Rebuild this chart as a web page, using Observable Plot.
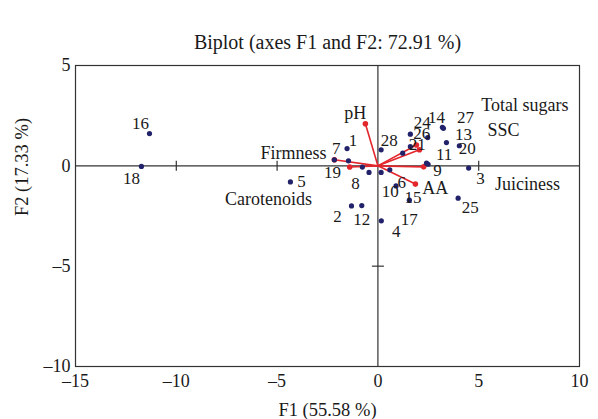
<!DOCTYPE html>
<html><head><meta charset="utf-8">
<script src="https://cdn.jsdelivr.net/npm/d3@7"></script>
<script src="https://cdn.jsdelivr.net/npm/@observablehq/plot@0.6"></script>
<style>body{margin:0;background:#fff}</style>
</head><body><div id="chart"></div>
<script>
// Observations (F1, F2)
const obsIds = ["1","2","3","4","5","6","7","8","9","10","11","12","13","14","15","16","17","18","19","20","21","22","23","24","25","26","27","28"];
const obsF1 = [-1.53,-1.31,4.50,0.17,-4.34,0.59,-2.16,-0.77,2.41,0.16,2.49,-0.80,3.40,3.20,0.90,-11.33,1.56,-11.73,-1.46,4.04,1.61,1.23,-0.44,1.61,3.98,2.47,3.25,0.16];
const obsF2 = [0.86,-2.00,-0.11,-2.74,-0.80,-0.20,0.30,-0.06,0.13,-0.33,0.08,-1.98,1.16,1.92,-1.00,1.61,-1.71,-0.03,0.25,1.00,0.96,0.63,-0.33,1.58,-1.61,1.41,1.87,0.80];
// Variables (vector tips) and their label anchors
const varNames = ["pH","Firmness","Carotenoids","AA","Juiciness","Total sugars","SSC"];
const varF1 = [-0.62,-2.16,-1.40,1.86,2.27,1.91,2.06];
const varF2 = [2.10,0.30,-0.06,-0.91,-0.05,1.04,0.80];
const varLabelF1 = [-1.12,-4.19,-5.43,2.85,7.42,7.29,6.23];
const varLabelF2 = [2.64,0.65,-1.64,-1.14,-0.90,3.03,1.79];
const xTicks = [-15,-10,-5,0,5,10];
const yTicks = [-10,-5,0,5];
const axisTicksX = [-10,-5,5];
const axisTicksY = [-5];

// label placement (pixel offsets), layout only
const labelOffsets = {
  "1":[6,-8],"2":[-14,11],"3":[12,11],"4":[15,11],"5":[11,0],"6":[12,13],"7":[2,-11],
  "8":[-7,17],"9":[11,7],"10":[9,19],"11":[16,-10],"12":[0,14],"13":[17,-8],"14":[-6,-10],
  "15":[17,12],"16":[-9,-10],"17":[0,19],"18":[-10,12],"19":[-16,12],"20":[8,3],"21":[7,-2],
  "24":[12,-12],"25":[12,9],"26":[-6,-4],"27":[22,-11],"28":[8,-9]
};

const obs = obsIds.map((id,i)=>({id, x: obsF1[i], y: obsF2[i]}));
const vars = varNames.map((n,i)=>({name:n, x: varF1[i], y: varF2[i], lx: varLabelF1[i], ly: varLabelF2[i]}));

const navy = "#22226b";
const red = "#e3262b";
const ink = "#1a1a1a";
const font = "Liberation Serif, Times New Roman, serif";
const fs = 18;

const vTick = {draw(ctx, size){ const r = Math.sqrt(size/Math.PI); ctx.moveTo(0,-r); ctx.lineTo(0,r); }};
const hTick = {draw(ctx, size){ const r = Math.sqrt(size/Math.PI); ctx.moveTo(-r,0); ctx.lineTo(r,0); }};

const labelMarks = obs.filter(d => labelOffsets[d.id]).map(d =>
  Plot.text([d], {x:"x", y:"y", text:"id", dx: labelOffsets[d.id][0], dy: labelOffsets[d.id][1], fontSize: 17, fill: ink})
);

const dash = d => d < 0 ? "\u2013" + Math.abs(d) : String(d);

const chart = Plot.plot({
  width: 598, height: 419,
  marginLeft: 75, marginRight: 19, marginTop: 65, marginBottom: 53,
  style: {fontFamily: font, fontSize: fs + "px", color: ink, background: "#fff"},
  x: {domain: [-15,10], ticks: xTicks, tickSize: 0, tickPadding: 8, label: null, tickFormat: dash},
  y: {domain: [-10,5], ticks: yTicks, tickSize: 0, tickPadding: 5, label: null, tickFormat: dash},
  marks: [
    Plot.frame({stroke: "#333", strokeWidth: 1.2}),
    Plot.ruleX([0], {stroke: "#333", strokeWidth: 1.2}),
    Plot.ruleY([0], {stroke: "#333", strokeWidth: 1.2}),
    Plot.dot(axisTicksX, {x: d=>d, y: ()=>0, symbol: vTick, r: 5, stroke: "#333", strokeWidth: 1.2, fill: "none"}),
    Plot.dot(axisTicksY, {x: ()=>0, y: d=>d, symbol: hTick, r: 6, stroke: "#333", strokeWidth: 1.2, fill: "none"}),
    Plot.link(vars, {x1: ()=>0, y1: ()=>0, x2: "x", y2: "y", stroke: red, strokeWidth: 1.6}),
    Plot.dot(vars, {x: "x", y: "y", r: 2.8, fill: red}),
    Plot.dot(obs, {x: "x", y: "y", r: 2.6, fill: navy}),
    ...labelMarks,
    Plot.text(vars, {x: "lx", y: "ly", text: "name", fontSize: fs, fill: ink}),
    Plot.text(["Biplot (axes F1 and F2: 72.91 %)"], {frameAnchor: "top", lineAnchor: "middle", dy: -23, fontSize: 20, fill: ink}),
    Plot.text(["F1 (55.58 %)"], {frameAnchor: "bottom", lineAnchor: "middle", dy: 44, fontSize: 18.5, fill: ink}),
    Plot.text(["F2 (17.33 %)"], {frameAnchor: "left", textAnchor: "middle", lineAnchor: "middle", dx: -53, dy: -49, rotate: -90, fontSize: 18.5, fill: ink})
  ]
});
document.getElementById("chart").appendChild(chart);
</script>
</body></html>
